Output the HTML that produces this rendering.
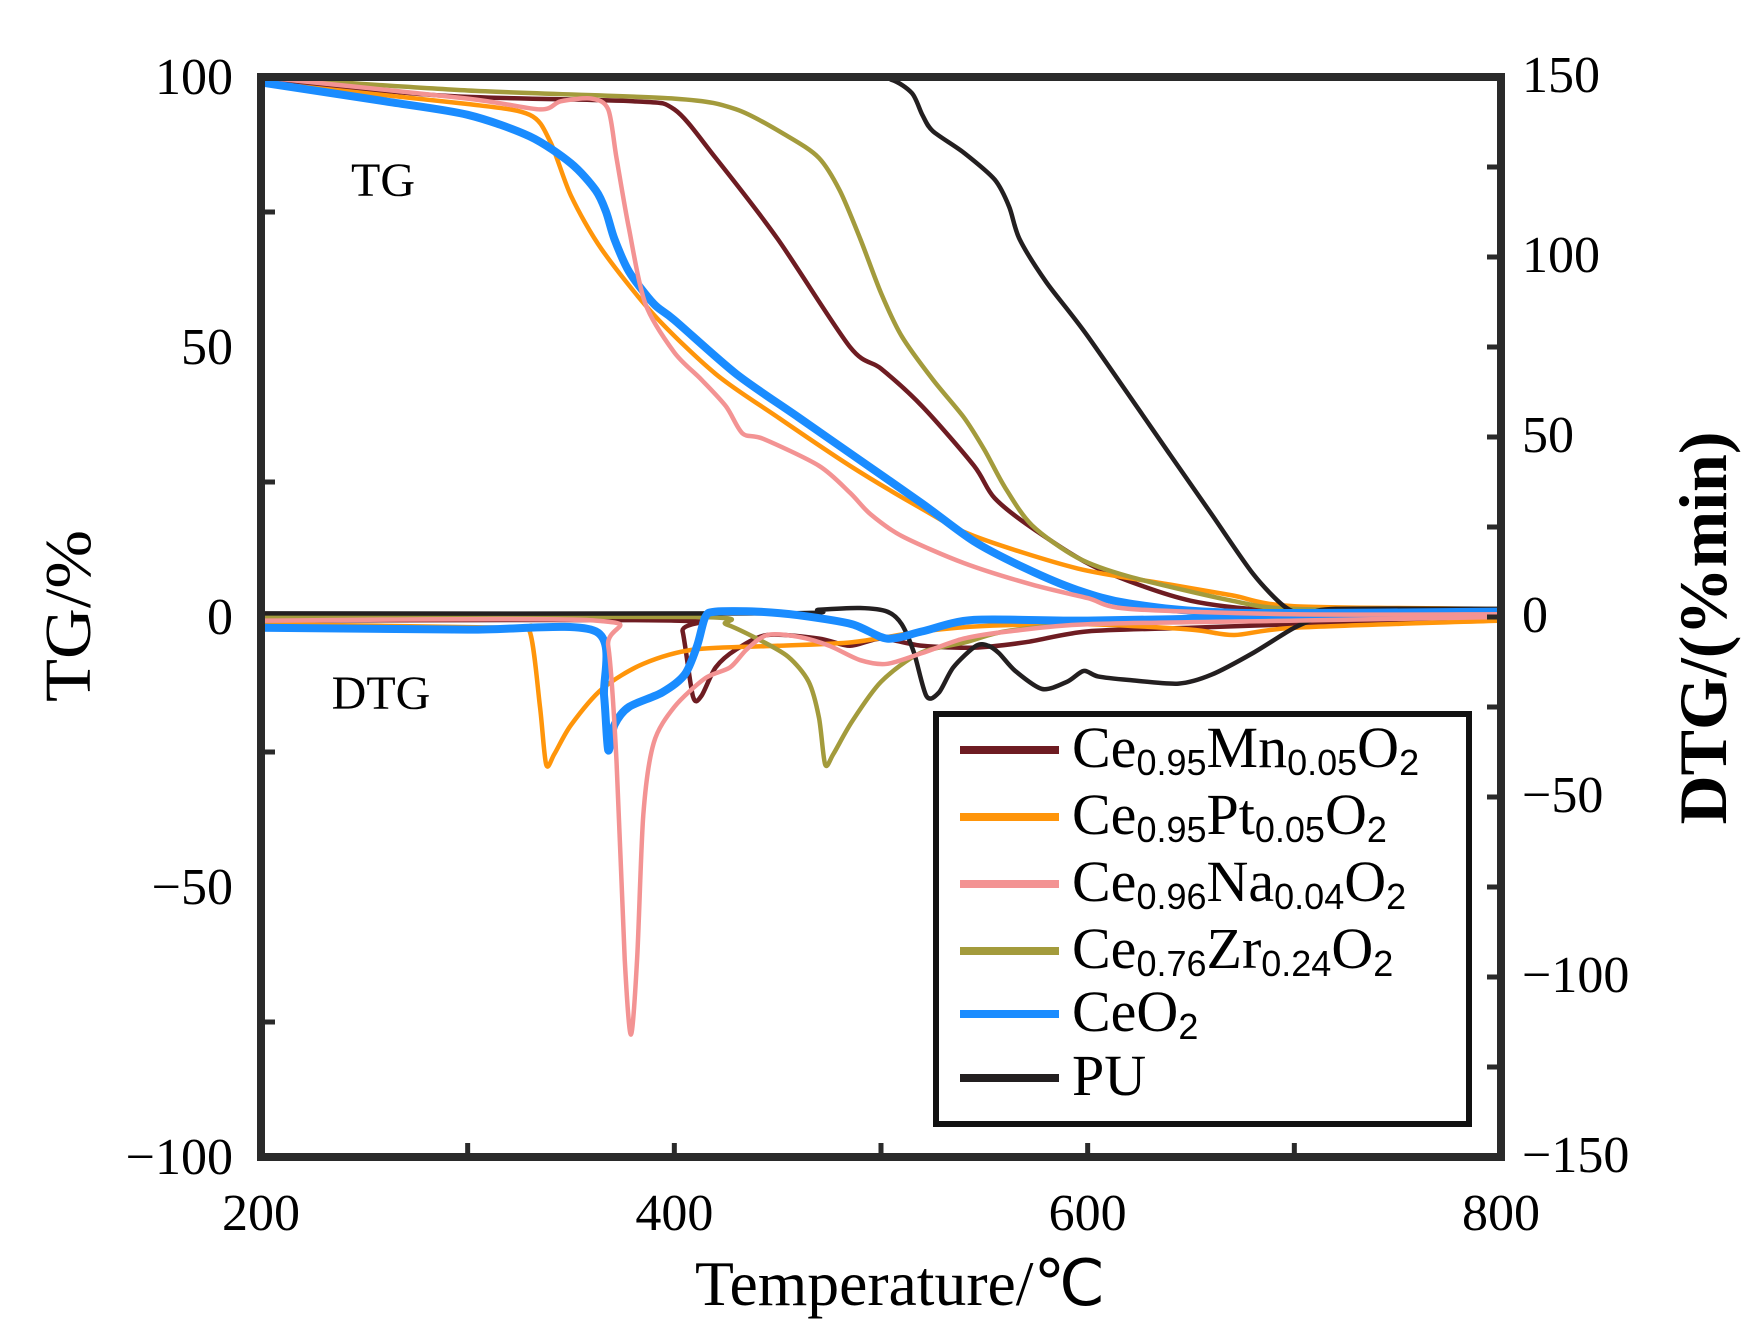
<!DOCTYPE html>
<html><head><meta charset="utf-8"><style>
html,body{margin:0;padding:0;background:#fff;}
svg{display:block;font-family:"Liberation Serif",serif;}
</style></head><body>
<svg id="chart" width="1757" height="1341" viewBox="0 0 1757 1341" xmlns="http://www.w3.org/2000/svg">
<g id="series"></g>
<g id="axes"></g>
<text x="383" y="196" font-size="48" text-anchor="middle">TG</text>
<text x="381" y="709" font-size="48" text-anchor="middle">DTG</text>
<text x="900" y="1305" font-size="64" text-anchor="middle" textLength="410" lengthAdjust="spacingAndGlyphs">Temperature/℃</text>
<text transform="translate(90,616) rotate(-90)" font-size="66" text-anchor="middle" textLength="172" lengthAdjust="spacingAndGlyphs">TG/%</text>
<text transform="translate(1726,628) rotate(-90)" font-size="68" font-weight="bold" text-anchor="middle" textLength="393" lengthAdjust="spacingAndGlyphs">DTG/(%min)</text>
<g id="legend">
<rect x="936" y="714" width="533" height="410" fill="#fff" stroke="#111" stroke-width="6"/>
</g>
</svg>
<script>
const temps_mn_tg=[200,290,380,400,420,450,485,500,520,545,555,575,605,650,700,800];
const mn_tg=[99.6,96.5,95.5,94,85,70,50,46,39,28,22,16,9,3,1,0.5];
const temps_pt_tg=[200,300,330,340,350,365,390,420,450,485,520,545,595,640,670,700,800];
const pt_tg=[99,95,93,88,78,68,56,45,37,28,20,15,9,6,4,2,1.5];
const temps_na_tg=[200,300,335,345,360,368,372,378,386,400,413,425,433,443,470,485,495,510,540,573,600,620,700,800];
const na_tg=[100,96,94,95.5,96,94,85,72,58,49,44,39,34,33,28,23,19,15,10,6,3.5,1.5,0.5,0.5];
const temps_zr_tg=[200,300,400,430,455,470,480,490,500,510,525,540,550,560,573,595,620,670,700,800];
const zr_tg=[100,97.5,96,94,89,85,79,70,60,52,44,37,31,24,17,11,7.5,3,1.5,1];
const temps_ce_tg=[200,260,300,330,350,362,367,371,378,390,400,430,460,490,520,545,570,595,620,670,800];
const ce_tg=[99,95.5,93,89,84,79,75,70,64,58,55,45,37,29,21,14,9,5,2.5,0.8,1];
const temps_pu_tg=[200,490,505,515,520,525,540,555,562,567,580,600,640,660,680,695,705,720,800];
const pu_tg=[100,100,99.5,97,93,90,86,81,76,70,62,52,30,19,8,2,0.5,1.5,1.5];

const temps_mn_dtg=[200,400,404,409,413,420,430,445,470,485,500,520,545,570,600,650,700,800];
const mn_dtg=[-1,-1,-4,-22,-22,-14,-9,-5,-6,-8,-6,-8,-8.5,-7,-4,-3,-2,0];
const temps_pt_dtg=[200,320,330,335,338,342,350,365,385,410,450,486,520,550,600,650,671,700,800];
const pt_dtg=[-2,-3,-4,-25,-41,-38,-30,-20,-13,-9,-8,-7,-4,-2.5,-2,-3.5,-5,-3,-1];
const temps_na_dtg=[200,362,368,372,376,379,382,385,390,400,415,427,435,445,460,475,490,503,520,540,562,600,700,800];
const na_dtg=[-1,-1,-8,-40,-95,-116,-95,-55,-35,-25,-17,-14,-9,-5,-5.5,-8,-12,-13,-10,-6,-4,-2,-1,0];
const temps_zr_dtg=[200,410,425,440,455,465,470,473,477,486,500,519,541,560,600,650,700,800];
const zr_dtg=[0,0,-2,-6,-11,-18,-28,-41,-38,-29,-18,-10,-7,-4,-1.5,0,1,1];
const temps_ce_dtg=[200,300,362,366,368,371,378,394,405,411,415,420,440,460,486,503,520,545,600,700,800];
const ce_dtg=[-3,-3.5,-4,-22,-37,-30,-25,-21,-16,-8,0,1.5,1.5,0.5,-2,-6,-4,-0.8,-1,0,1];
const temps_pu_dtg=[200,450,470,490,503,510,516,522,528,535,546,552,557,565,578,590,598,605,620,644,660,680,700,715,725,800];
const pu_dtg=[1,1,2,2.5,1.5,-2,-10,-22,-21,-14,-8,-8,-10,-15,-20,-18,-15,-16.5,-17.5,-18.5,-16,-10,-3,0.5,1.5,1.5];

const xTicks=[200,400,600,800];
const tgTicks=[100,50,0,-50,-100];
const dtgTicks=[150,100,50,0,-50,-100,-150];

const X0=261,X1=1501,Y0=77,Y1=1157,YZ=617;
function xs(t){return X0+(t-200)*(X1-X0)/600;}
function yTG(v){return YZ-v*(YZ-Y0)/100;}
function yDTG(v){return YZ-v*(YZ-Y0)/150;}
const NS='http://www.w3.org/2000/svg';
function mk(tag,attrs,parent){const e=document.createElementNS(NS,tag);for(const k in attrs)e.setAttribute(k,attrs[k]);parent.appendChild(e);return e;}
function smooth(pts){
  let d='M'+pts[0][0].toFixed(1)+','+pts[0][1].toFixed(1);
  for(let i=0;i<pts.length-1;i++){
    const p0=pts[Math.max(0,i-1)],p1=pts[i],p2=pts[i+1],p3=pts[Math.min(pts.length-1,i+2)];
    const k=0.14;
    const c1=[p1[0]+(p2[0]-p0[0])*k,p1[1]+(p2[1]-p0[1])*k];
    const c2=[p2[0]-(p3[0]-p1[0])*k,p2[1]-(p3[1]-p1[1])*k];
    d+=' C'+c1[0].toFixed(1)+','+c1[1].toFixed(1)+' '+c2[0].toFixed(1)+','+c2[1].toFixed(1)+' '+p2[0].toFixed(1)+','+p2[1].toFixed(1);
  }
  return d;
}
const sg=document.getElementById('series');
const seriesDefs=[
 ['mn',temps_mn_tg,mn_tg,temps_mn_dtg,mn_dtg,'#6e1c22',4.5],
 ['pt',temps_pt_tg,pt_tg,temps_pt_dtg,pt_dtg,'#ff950a',4.5],
 ['zr',temps_zr_tg,zr_tg,temps_zr_dtg,zr_dtg,'#a39b3c',4.5],
 ['pu',temps_pu_tg,pu_tg,temps_pu_dtg,pu_dtg,'#231f20',4.5],
 ['ceo2',temps_ce_tg,ce_tg,temps_ce_dtg,ce_dtg,'#1a8cff',8],
 ['na',temps_na_tg,na_tg,temps_na_dtg,na_dtg,'#f39393',4.5]
];
seriesDefs.forEach(s=>{
  const p1=mk('path',{d:smooth(s[1].map((t,i)=>[xs(t),yTG(s[2][i])])),fill:'none',stroke:s[5],'stroke-width':s[6],'stroke-linejoin':'round','stroke-linecap':'round'},sg);
  
  
  const p2=mk('path',{d:smooth(s[3].map((t,i)=>[xs(t),yDTG(s[4][i])])),fill:'none',stroke:s[5],'stroke-width':s[6],'stroke-linejoin':'round','stroke-linecap':'round'},sg);
  
  
});
const ag=document.getElementById('axes');
const frame=mk('rect',{x:X0,y:Y0,width:X1-X0,height:Y1-Y0,fill:'none',stroke:'#2a2a2a','stroke-width':8},ag);


for(let t=300;t<800;t+=100){
  const tk=mk('line',{x1:xs(t),x2:xs(t),y1:Y1,y2:Y1-14,stroke:'#2a2a2a','stroke-width':5},ag);
  
  
}
xTicks.forEach(t=>{
  const l=mk('text',{x:xs(t),y:1230,'font-size':52,'text-anchor':'middle'},ag);l.textContent=t;
  
  
});
for(let v=75;v>-100;v-=50){
  const tk=mk('line',{x1:X0,x2:X0+14,y1:yTG(v),y2:yTG(v),stroke:'#2a2a2a','stroke-width':5},ag);
  
  
}
tgTicks.forEach(v=>{
  const l=mk('text',{x:233,y:yTG(v)+17,'font-size':52,'text-anchor':'end'},ag);l.textContent=v<0?'\u2212'+(-v):v;
  
  
});
for(let v=125;v>-150;v-=25){
  const tk=mk('line',{x1:X1,x2:X1-14,y1:yDTG(v),y2:yDTG(v),stroke:'#2a2a2a','stroke-width':5},ag);
  
  
}
dtgTicks.forEach(v=>{
  const l=mk('text',{x:1522,y:yDTG(v)+15,'font-size':52,'text-anchor':'start'},ag);l.textContent=v<0?'\u2212'+(-v):v;
  
  
});
const legendNames=[['Ce','0.95','Mn','0.05'],['Ce','0.95','Pt','0.05'],['Ce','0.96','Na','0.04'],['Ce','0.76','Zr','0.24'],['CeO',null],['PU',null]];
const legendColors=['#6e1c22','#ff950a','#f39393','#a39b3c','#1a8cff','#231f20'];
const lg=document.getElementById('legend');
const rowsY=[750,817,884,951,1014,1078];
legendNames.forEach((n,i)=>{
  const y=rowsY[i];
  const ln=mk('line',{x1:960,x2:1059,y1:y,y2:y,stroke:legendColors[i],'stroke-width':8},lg);
  
  
  const tx=mk('text',{x:1072,y:y+17,'font-size':58},lg);
  
  
  const sub=s=>'<tspan font-family="Liberation Sans, sans-serif" font-size="36" dy="8">'+s+'</tspan>';
  if(n[1]){
    tx.innerHTML=n[0]+sub(n[1])+'<tspan dy="-8">'+n[2]+'</tspan>'+sub(n[3])+'<tspan dy="-8">O</tspan>'+sub('2');
  } else if(n[0]==='CeO'){
    tx.innerHTML='CeO'+sub('2');
  } else tx.textContent=n[0];
});
</script>
</body></html>
